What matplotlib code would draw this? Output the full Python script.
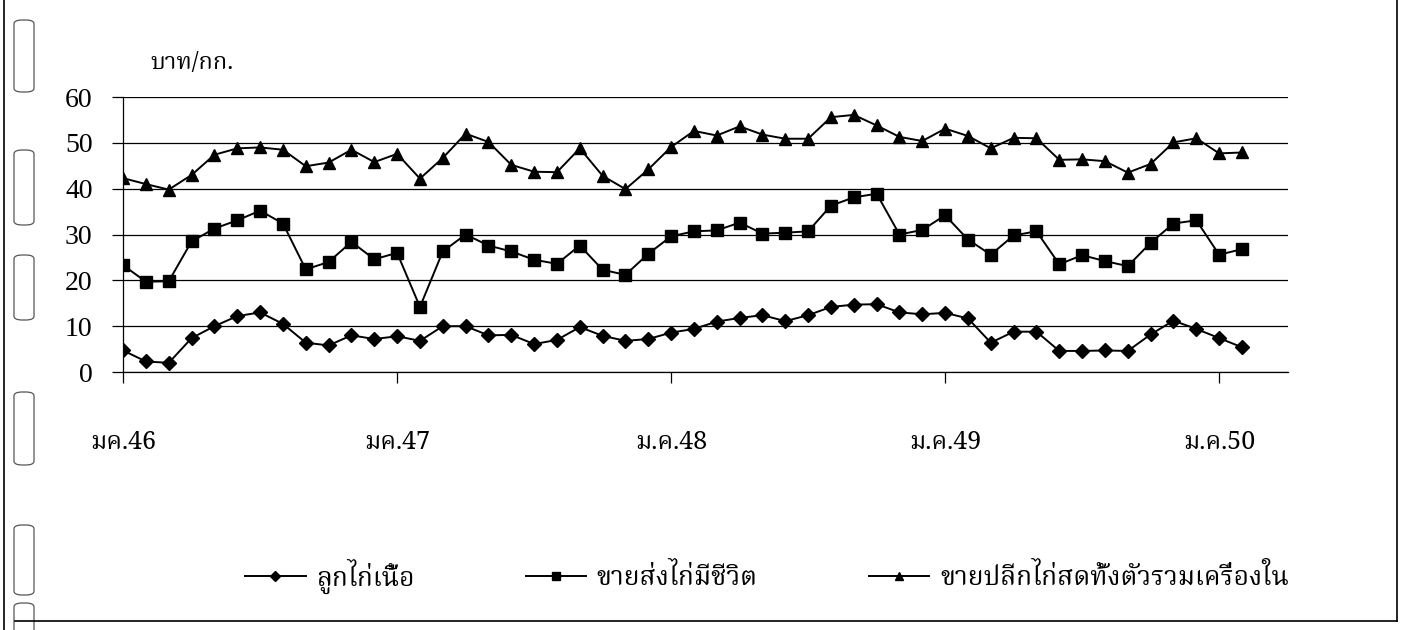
import numpy as np
import matplotlib
matplotlib.use("Agg")
import matplotlib.pyplot as plt
from matplotlib import font_manager, ft2font
from matplotlib.lines import Line2D
from matplotlib.patches import FancyBboxPatch

# monthly prices, Jan 2003 (ม.ค.46) .. Feb 2007
chicks = [4.7, 2.3, 2.0, 7.4, 10.0, 12.2, 13.0, 10.5, 6.4, 5.8, 8.0, 7.2,
          7.8, 6.8, 10.0, 10.0, 8.0, 8.1, 6.1, 7.0, 9.8, 7.9, 6.8, 7.2,
          8.6, 9.4, 11.0, 11.8, 12.4, 11.1, 12.4, 14.2, 14.7, 14.8, 13.0, 12.6,
          12.9, 11.7, 6.4, 8.8, 8.8, 4.6, 4.6, 4.7, 4.6, 8.2, 11.2, 9.4,
          7.4, 5.4]
wholesale = [23.3, 19.7, 19.8, 28.5, 31.3, 33.1, 35.2, 32.4, 22.4, 24.0, 28.4, 24.6,
             26.0, 14.2, 26.3, 30.0, 27.6, 26.3, 24.5, 23.6, 27.6, 22.3, 21.2, 25.8,
             29.6, 30.7, 30.9, 32.6, 30.2, 30.4, 30.7, 36.3, 38.1, 38.9, 30.0, 31.0,
             34.2, 28.9, 25.6, 29.8, 30.7, 23.5, 25.5, 24.2, 23.1, 28.2, 32.4, 33.1,
             25.6, 26.8]
retail = [42.3, 41.0, 39.8, 43.0, 47.4, 48.8, 49.0, 48.5, 44.9, 45.7, 48.5, 45.8,
          47.6, 42.2, 46.7, 52.0, 50.2, 45.2, 43.7, 43.6, 48.8, 42.8, 39.9, 44.2,
          49.1, 52.6, 51.6, 53.6, 51.8, 50.9, 50.9, 55.6, 56.1, 53.8, 51.3, 50.4,
          53.1, 51.5, 48.8, 51.1, 51.0, 46.3, 46.4, 46.0, 43.5, 45.4, 50.1, 51.0,
          47.7, 47.9]

series_names = ["ลูกไก่เนื้อ", "ขายส่งไก่มีชีวิต", "ขายปลีกไก่สดทั้งตัวรวมเครื่องใน"]
tick_pos = [0, 12, 24, 36, 48]
tick_labels = ["มค.46", "มค.47", "ม.ค.48", "ม.ค.49", "ม.ค.50"]
unit_label = "บาท/กก."


def find_thai_font():
    names = []
    for f in font_manager.fontManager.ttflist:
        try:
            if ft2font.FT2Font(f.fname).get_char_index(0x0E01):
                names.append(f.name)
        except Exception:
            pass
    for pref in ["Norasi", "Noto Serif Thai", "Kinnari", "Laksaman", "Noto Sans Thai", "Loma", "Garuda"]:
        if pref in names:
            return pref
    return names[0] if names else "DejaVu Sans"


thai = find_thai_font()
serif = "Liberation Serif"

fig = plt.figure(figsize=(14.15, 6.3), dpi=100)
ax = fig.add_axes([0.087, 0.4095, 0.823, 0.4365])

x = np.arange(len(chicks))
ax.plot(x, chicks, color="black", lw=1.4, marker="D", ms=7, label=series_names[0])
ax.plot(x, wholesale, color="black", lw=1.4, marker="s", ms=8, label=series_names[1])
ax.plot(x, retail, color="black", lw=1.4, marker="^", ms=8, label=series_names[2])

ax.set_xlim(0, 51)
ax.set_ylim(0, 60)
ax.set_yticks(range(0, 61, 10))
ax.yaxis.grid(True, color="black", lw=0.9)
ax.set_axisbelow(True)
for s in ["top", "right"]:
    ax.spines[s].set_visible(False)
ax.spines["left"].set_linewidth(0.9)
ax.spines["bottom"].set_linewidth(0.9)

ax.set_xticks(tick_pos)
ax.set_xticklabels(tick_labels, fontfamily=[thai, serif], fontsize=18)
ax.tick_params(axis="x", direction="out", length=8, width=0.9, pad=34)
ax.tick_params(axis="y", direction="out", length=8, width=0.9, pad=14)
for lab in ax.get_yticklabels():
    lab.set_fontfamily(serif)
    lab.set_fontsize(20)

fig.text(150 / 1415, 1 - 63 / 630, unit_label, fontsize=17, family=[thai, serif], va="center")

fig.legend(loc="center", bbox_to_anchor=(0.542, 1 - 576 / 630), ncol=3, frameon=False,
           prop={"family": [thai, serif], "size": 19}, handlelength=2.3,
           columnspacing=4.2, handletextpad=0.4, markerscale=0.7)

# scanned page frame and binder marks
def px(xp, yp):
    return xp / 1415, 1 - yp / 630

for (x0, y0), (x1, y1) in [((1397, 0), (1397, 621)), ((15, 621), (1397, 621)), ((4, 0), (4, 630))]:
    a, b = px(x0, y0)
    c, d = px(x1, y1)
    fig.add_artist(Line2D([a, c], [b, d], color="black", lw=1.2))

for top, bot in [(20, 92), (150, 225), (255, 320), (392, 465), (525, 595), (603, 640)]:
    a, b = px(14, bot)
    fig.add_artist(FancyBboxPatch((a, b), 20 / 1415, (bot - top) / 630,
                                  boxstyle="round,pad=0,rounding_size=0.006",
                                  fill=False, ec="#555555", lw=0.9, transform=fig.transFigure))

fig.savefig("out.png", dpi=100)
